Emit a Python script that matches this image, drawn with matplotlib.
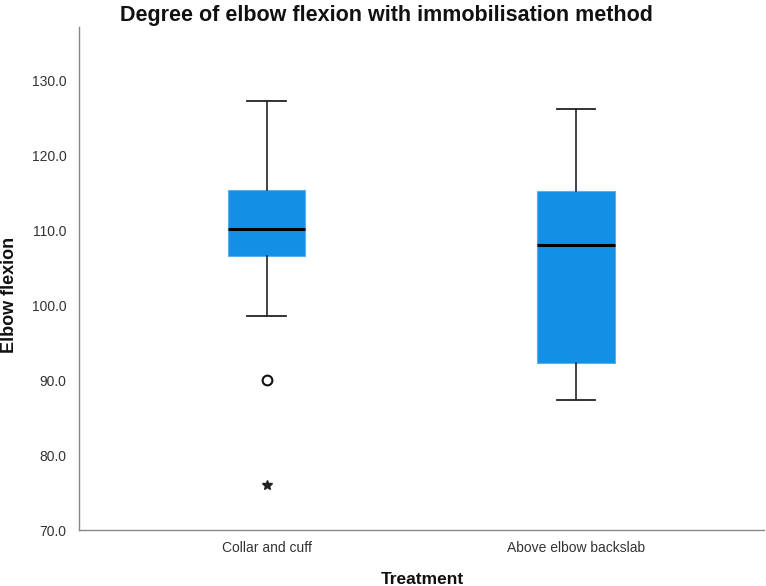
import matplotlib
matplotlib.use("Agg")
import matplotlib.pyplot as plt

# ---- data ----
categories = ["Collar and cuff", "Above elbow backslab"]
whisker_low = [98.6, 87.3]
q1 = [106.6, 92.3]
median = [110.2, 108.0]
q3 = [115.3, 115.2]
whisker_high = [127.2, 126.1]
outliers = [[90.0], []]
extremes = [[76.0], []]
yticks = [70, 80, 90, 100, 110, 120, 130]

plt.rcParams['font.family'] = ['Liberation Sans', 'DejaVu Sans']

fig = plt.figure(figsize=(7.66, 5.86), dpi=100)
ax = fig.add_axes([79/766, 56/586, 1 - 79/766 - 0.002, (530-27)/586])

positions = [1, 2]
stats = []
for i, c in enumerate(categories):
    stats.append(dict(label=c, whislo=whisker_low[i], q1=q1[i], med=median[i],
                      q3=q3[i], whishi=whisker_high[i], fliers=[]))

box_color = "#1390E6"
ax.bxp(stats, positions=positions, widths=0.25, patch_artist=True,
       showfliers=False,
       boxprops=dict(facecolor=box_color, edgecolor="#5AB0EE", linewidth=0.8),
       medianprops=dict(color="black", linewidth=2.2),
       whiskerprops=dict(color="#111111", linewidth=1.1),
       capprops=dict(color="#222222", linewidth=1.3),
       capwidths=0.125)

for i, p in enumerate(positions):
    if outliers[i]:
        ax.plot([p]*len(outliers[i]), outliers[i], linestyle='none', marker='o',
                markersize=7, markerfacecolor='white', markeredgecolor='#111111',
                markeredgewidth=1.5)
    if extremes[i]:
        ax.plot([p]*len(extremes[i]), extremes[i], linestyle='none', marker='*',
                markersize=7, color='#222222')

ax.set_xlim(0.393, 2.61)
ax.set_ylim(70, 137.07)
ax.set_yticks(yticks)
ax.set_yticklabels([f"{v:.1f}" for v in yticks])
ax.set_xticks(positions)
ax.set_xticklabels(categories)
ax.tick_params(axis='both', length=0, labelsize=10, labelcolor='#333333')
ax.tick_params(axis='y', pad=9)
ax.tick_params(axis='x', pad=8)

for s in ['top', 'right']:
    ax.spines[s].set_visible(False)
for s in ['left', 'bottom']:
    ax.spines[s].set_color('#888888')
    ax.spines[s].set_linewidth(1.0)

fig.text(386/766, 1 - 15/586, "Degree of elbow flexion with immobilisation method",
         ha='center', va='center', fontsize=15.5, fontweight='bold', color='#111111')
fig.text(422/766, 1 - 579/586, "Treatment", ha='center', va='center',
         fontsize=12.5, fontweight='bold', color='#111111')
fig.text(10/766, 1 - 295/586, "Elbow flexion", ha='center', va='center',
         rotation=90, fontsize=13, fontweight='bold', color='#111111')

fig.savefig("out.png", dpi=100)
